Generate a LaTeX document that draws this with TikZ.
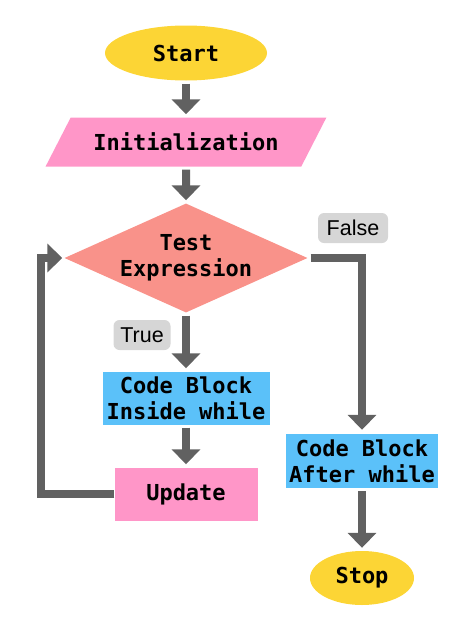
\documentclass[tikz,border=0pt]{standalone}
\usepackage{fontspec}
\setmonofont{DejaVu Sans Mono}
\newfontfamily\labelfont{Liberation Sans}
\usetikzlibrary{shapes.geometric,arrows.meta}

\definecolor{startyellow}{HTML}{FCD535}
\definecolor{initpink}{HTML}{FF96C8}
\definecolor{testsalmon}{HTML}{F9928A}
\definecolor{codeblue}{HTML}{5BC1F9}
\definecolor{arrowgray}{HTML}{616161}
\definecolor{labelgray}{HTML}{D6D6D6}

\begin{document}
\begin{tikzpicture}
[x=1pt,y=-1pt,%
  textdecorate/.style={font=\ttfamily\bfseries\fontsize{22}{26}\selectfont,
    text=black,align=center,inner sep=0pt},%
  terminaldecorate/.style={textdecorate,shape=ellipse,fill=startyellow},%
  iodecorate/.style={textdecorate,shape=trapezium,trapezium left angle=42,
    trapezium right angle=138,trapezium stretches=true,fill=initpink,
    minimum width=281pt,minimum height=49pt},%
  decisiondecorate/.style={textdecorate,shape=diamond,aspect=2.2,
    fill=testsalmon,minimum width=243pt,minimum height=109pt},%
  blockdecorate/.style={textdecorate,shape=rectangle,fill=codeblue},%
  updatedecorate/.style={textdecorate,shape=rectangle,fill=initpink},%
  labeldecorate/.style={shape=rectangle,rounded corners=6pt,fill=labelgray,
    font=\labelfont\fontsize{21.5}{25}\selectfont,inner sep=0pt},%
  linedecorate/.style={draw=arrowgray,line width=8pt,
    -{Triangle[width=28pt,length=15pt]}}]
\useasboundingbox (0,0) rectangle (474,632);
%% nodes or boxes
\node (start) at (186,53) [terminaldecorate,minimum width=162pt,minimum height=55pt] {Start};
\node (init) at (186,142) [iodecorate] {Initialization};
\node (test) at (186,258) [decisiondecorate] {Test\\Expression};
\node (inside) at (186,398) [blockdecorate,minimum width=167pt,minimum height=53pt] {Code Block\\Inside while};
\node (update) at (186,494) [updatedecorate,minimum width=143pt,minimum height=53pt] {Update};
\node (after) at (362,461) [blockdecorate,minimum width=152pt,minimum height=54pt] {Code Block\\After while};
\node (stop) at (362,578) [terminaldecorate,minimum width=104pt,minimum height=54pt] {Stop};
%% labels on the branches
\node (false) at (353,228) [labeldecorate,minimum width=70pt,minimum height=30pt] {False};
\node (true) at (142,335) [labeldecorate,minimum width=57pt,minimum height=30pt] {True};
%% straight arrows
\foreach \startnode/\endnode in {start/init, init/test, test/inside,
  inside/update, after/stop}
{
  \draw[linedecorate,shorten <=3pt,shorten >=3pt] (\startnode) -- (\endnode);
}
%% false branch and loop back
\draw[linedecorate,shorten >=4pt] ([xshift=3pt]test.east) -| (after.north);
\draw[linedecorate,shorten >=2pt] (update.west) -- ++(-73,0) |- (test.west);
\end{tikzpicture}
\end{document}
